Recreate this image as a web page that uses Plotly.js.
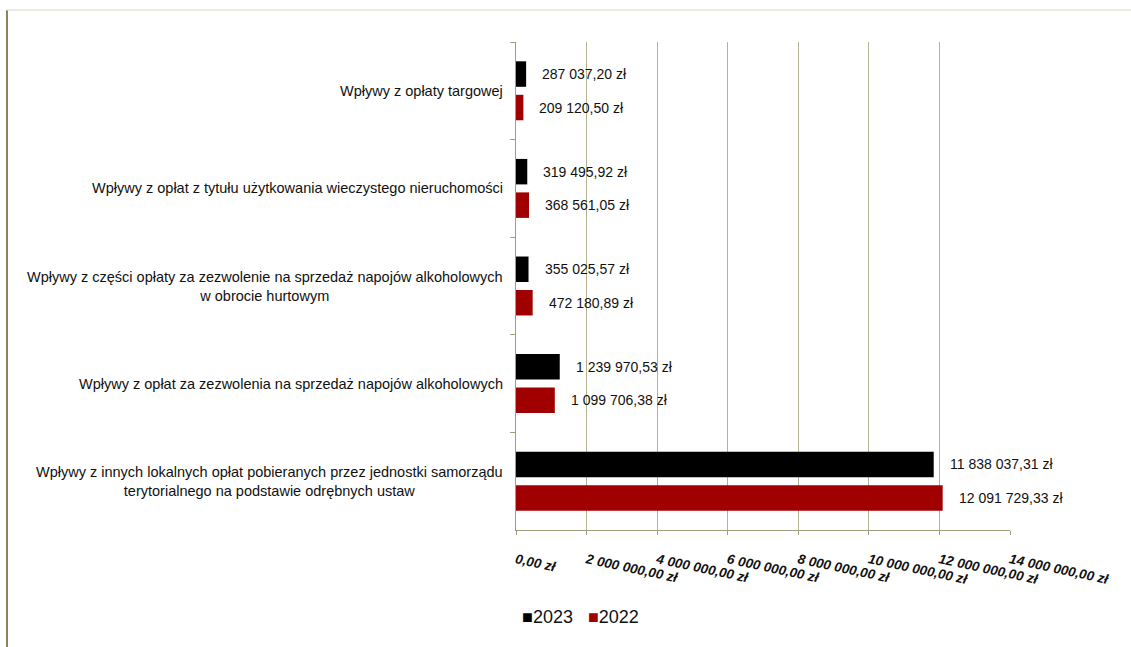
<!DOCTYPE html>
<html>
<head>
<meta charset="utf-8">
<script src="https://cdn.plot.ly/plotly-3.0.1.min.js"></script>
<style>
html,body{margin:0;padding:0;background:#ffffff;}
#chart{width:1131px;height:647px;}
</style>
</head>
<body>
<div id="chart"></div>
<script>
// ---- data ----
const categories = [
  "Wpływy z opłaty targowej",
  "Wpływy z opłat z tytułu użytkowania wieczystego nieruchomości",
  "Wpływy z części opłaty za zezwolenie na sprzedaż napojów alkoholowych<br>w obrocie hurtowym",
  "Wpływy z opłat za zezwolenia na sprzedaż napojów alkoholowych",
  "Wpływy z innych lokalnych opłat pobieranych przez jednostki samorządu<br>terytorialnego na podstawie odrębnych ustaw"
];
const values2023 = [287037.20, 319495.92, 355025.57, 1239970.53, 11838037.31];
const values2022 = [209120.50, 368561.05, 472180.89, 1099706.38, 12091729.33];
const seriesNames = ["2023", "2022"];
const seriesColors = ["#000000", "#a00000"];
const tickVals = [0, 2000000, 4000000, 6000000, 8000000, 10000000, 12000000, 14000000];
const tickText = ["0,00 zł", "2 000 000,00 zł", "4 000 000,00 zł", "6 000 000,00 zł",
                  "8 000 000,00 zł", "10 000 000,00 zł", "12 000 000,00 zł", "14 000 000,00 zł"];

// ---- helpers ----
function fmtPLN(v) {
  const parts = v.toFixed(2).split(".");
  const intPart = parts[0].replace(/\B(?=(\d{3})+(?!\d))/g, " ");
  return intPart + "," + parts[1] + " zł";
}

const FONT = "Liberation Sans, Arial, sans-serif";
const GRID = "#b5b393";
const LINE = "#a09e7c";
const BARGAP = 0.314;
const GROUPGAP = 0.239;

// pixel geometry of plot area
const W = 1131, H = 647;
const M = {l: 516, r: 121, t: 42, b: 117};
const PW = W - M.l - M.r, PH = H - M.t - M.b;
const px2x = p => (p - M.l) / PW;
const py2y = p => (H - M.b - p) / PH;

const series = [values2023, values2022];
const traces = series.map((vals, k) => ({
  type: "bar",
  orientation: "h",
  name: seriesNames[k],
  y: categories,
  x: vals,
  marker: {color: seriesColors[k], line: {width: 0}},
  hoverinfo: "x+name",
  showlegend: false
}));

// label offset of each trace from its category centre (category units)
const sub = (1 - BARGAP) / 2;
const offsets = [-sub / 2, sub / 2]; // reversed axis: first trace on top

const annotations = [];
// category labels
categories.forEach((c, i) => {
  annotations.push({
    xref: "paper", yref: "y", x: 0, y: i, xanchor: "right", yanchor: "middle",
    xshift: -11, text: c, align: "center", showarrow: false,
    font: {family: FONT, size: 14.5, color: "#111111"}
  });
});
// value labels
series.forEach((vals, k) => {
  vals.forEach((v, i) => {
    annotations.push({
      xref: "x", yref: "y", x: v, y: i + offsets[k], xanchor: "left", yanchor: "middle",
      xshift: 14, text: fmtPLN(v), showarrow: false,
      font: {family: FONT, size: 14, color: "#111111"}
    });
  });
});
// legend (built from series names / colours)
const legendText = seriesNames.map((n, k) =>
  '<span style="color:' + seriesColors[k] + '">■</span>' + n).join("\u00A0\u00A0\u00A0");
annotations.push({
  xref: "paper", yref: "paper", x: px2x(580), y: py2y(617), xanchor: "center", yanchor: "middle",
  text: legendText, showarrow: false,
  font: {family: FONT, size: 18, color: "#111111"}
});

const shapes = [
  {type: "line", xref: "paper", yref: "paper", x0: px2x(7), x1: px2x(7), y0: py2y(10), y1: py2y(H),
   line: {color: "#8c8460", width: 2}},
  {type: "line", xref: "paper", yref: "paper", x0: px2x(7), x1: px2x(W), y0: py2y(10), y1: py2y(10),
   line: {color: "#e6e4d6", width: 1.5}}
];

const layout = {
  width: W, height: H,
  margin: M,
  paper_bgcolor: "#ffffff",
  plot_bgcolor: "#ffffff",
  barmode: "group",
  bargap: BARGAP,
  bargroupgap: GROUPGAP,
  showlegend: false,
  font: {family: FONT, color: "#111111"},
  xaxis: {
    range: [0, 14000000],
    tickmode: "array", tickvals: tickVals, ticktext: tickText,
    tickangle: 12,
    tickfont: {family: FONT, size: 13.5, color: "#111111", style: "italic", weight: "bold"},
    ticklabelstandoff: 12,
    showgrid: true, gridcolor: GRID, gridwidth: 1,
    showline: true, linecolor: LINE, linewidth: 1,
    ticks: "outside", ticklen: 4, tickcolor: LINE,
    zeroline: false, fixedrange: true
  },
  yaxis: {
    type: "category",
    autorange: "reversed",
    showticklabels: false,
    ticks: "outside", tickson: "boundaries", ticklen: 5, tickcolor: LINE,
    showline: true, linecolor: LINE, linewidth: 1,
    showgrid: false, zeroline: false, fixedrange: true
  },
  annotations: annotations,
  shapes: shapes
};

Plotly.newPlot("chart", traces, layout, {displayModeBar: false, staticPlot: true});
</script>
</body>
</html>
